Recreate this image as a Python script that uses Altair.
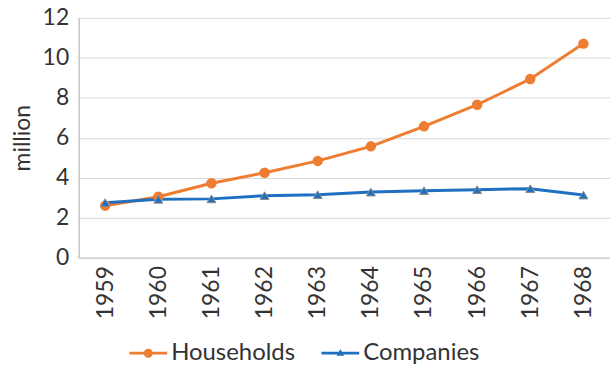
import altair as alt
import pandas as pd

years = ["1959", "1960", "1961", "1962", "1963", "1964", "1965", "1966", "1967", "1968"]
households = [2.60, 3.05, 3.72, 4.25, 4.84, 5.57, 6.57, 7.65, 8.94, 10.71]
companies = [2.75, 2.92, 2.94, 3.10, 3.15, 3.28, 3.35, 3.40, 3.45, 3.13]
series_names = ["Households", "Companies"]
colors = ["#ED7D31", "#1F70C1"]

rows = []
for y, h in zip(years, households):
    rows.append({"year": y, "value": h, "series": "Households"})
for y, c in zip(years, companies):
    rows.append({"year": y, "value": c, "series": "Companies"})
df = pd.DataFrame(rows)
df["legend_series"] = df["series"]

FONT = "Lato"
TXT = "#333333"
FS = 23

x_enc = alt.X("year:O", sort=years,
              scale=alt.Scale(type="point", padding=0.5),
              axis=alt.Axis(title=None, labelAngle=-90, labelFontSize=FS, labelFont=FONT,
                            labelColor=TXT, ticks=False, labelPadding=8, domainColor="#BFBFBF",
                            domainWidth=1, grid=False))
y_enc = alt.Y("value:Q", scale=alt.Scale(domain=[0, 12], nice=False),
              axis=alt.Axis(title="million", values=[0, 2, 4, 6, 8, 10, 12], labelFontSize=FS,
                            labelFont=FONT, labelColor=TXT, titleFont=FONT, titleFontSize=FS,
                            titleFontWeight="normal", titleColor=TXT, titlePadding=8,
                            ticks=False, labelPadding=10, domainColor="#A6A6A6",
                            gridColor="#D9D9D9", gridWidth=1))

color_scale = alt.Scale(domain=series_names, range=colors)

lines = alt.Chart(df).mark_line(strokeWidth=3).encode(
    x=x_enc, y=y_enc,
    color=alt.Color("series:N", scale=color_scale, legend=None),
    detail="series:N",
)

circles = alt.Chart(df).transform_filter(alt.datum.series == "Households").mark_point(
    shape="circle", filled=True, size=110, color="#ED7D31", opacity=1
).encode(x=x_enc, y=y_enc)

triangles = alt.Chart(df).transform_filter(alt.datum.series == "Companies").mark_point(
    shape="triangle-up", filled=True, size=80, color="#1F70C1", stroke="#8C8C8C",
    strokeWidth=1, opacity=1
).encode(x=x_enc, y=y_enc)

path_h = ("M-1,-0.075H1V0.075H-1Z "
          "M-0.24,0A0.24,0.24 0 1,1 0.24,0A0.24,0.24 0 1,1 -0.24,0Z")
path_c = ("M-1,-0.075H1V0.075H-1Z "
          "M0,-0.22L0.2,0.14H-0.2Z")

legend_layer = alt.Chart(df).transform_filter("false").mark_point(filled=True, opacity=1).encode(
    x=x_enc, y=y_enc,
    color=alt.Color("legend_series:N",
                    scale=alt.Scale(domain=series_names, range=colors),
                    legend=alt.Legend(title=None, orient="none", direction="horizontal",
                                      legendX=51, legendY=318, labelFont=FONT,
                                      labelFontSize=24, labelColor=TXT, symbolSize=1444,
                                      symbolOpacity=1, symbolStrokeWidth=0,
                                      labelOffset=4, columnPadding=26, padding=0)),
    shape=alt.Shape("legend_series:N",
                    scale=alt.Scale(domain=series_names, range=[path_h, path_c])),
)

chart = alt.layer(lines, circles, triangles, legend_layer).resolve_scale(
    color="independent", shape="independent"
).properties(
    width=534, height=241,
    autosize=alt.AutoSizeParams(type="none"),
    padding={"left": 79, "top": 17, "right": 0, "bottom": 109},
    background="white",
).configure_view(stroke=None)

chart.save("out.html", embed_options={"renderer": "svg", "actions": False})
